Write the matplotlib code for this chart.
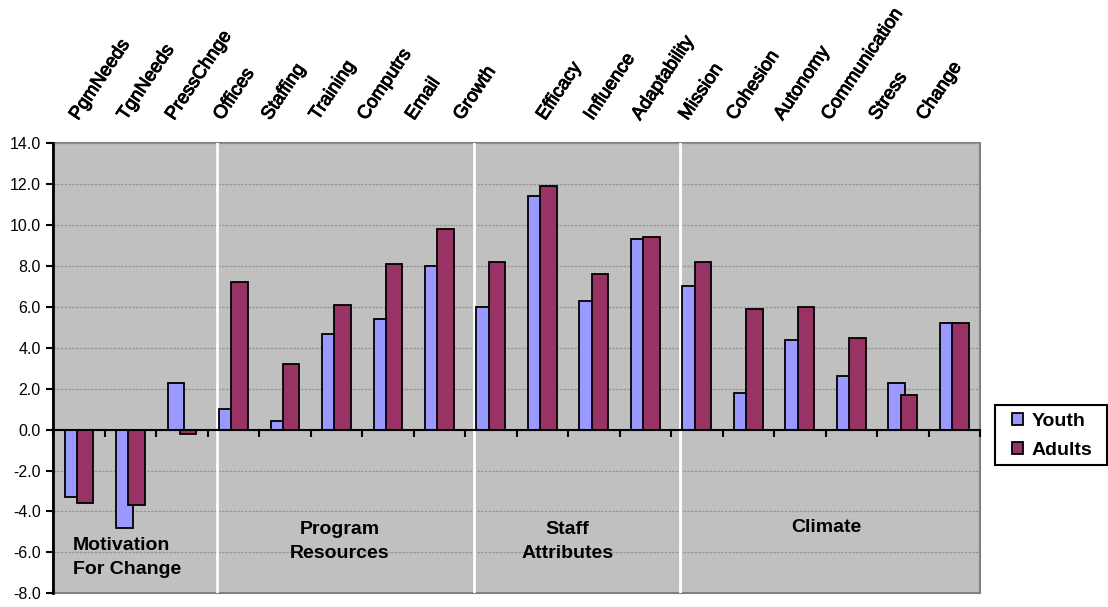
import numpy as np
import matplotlib
matplotlib.use("Agg")
import matplotlib.pyplot as plt
import matplotlib.patheffects as pe
from matplotlib.patches import Rectangle

plt.rcParams['font.family'] = ['Liberation Sans', 'DejaVu Sans']

# scale names, in plotting order
scales = ['PgmNeeds', 'TgnNeeds', 'PressChnge',
          'Offices', 'Staffing', 'Training', 'Computrs', 'Email',
          'Growth', 'Efficacy', 'Influence', 'Adaptability',
          'Mission', 'Cohesion', 'Autonomy', 'Communication', 'Stress', 'Change']

youth = [-3.3, -4.8, 2.3,
         1.0, 0.4, 4.7, 5.4, 8.0,
         6.0, 11.4, 6.3, 9.3,
         7.0, 1.8, 4.4, 2.6, 2.3, 5.2]
adults = [-3.6, -3.7, -0.2,
          7.2, 3.2, 6.1, 8.1, 9.8,
          8.2, 11.9, 7.6, 9.4,
          8.2, 5.9, 6.0, 4.5, 1.7, 5.2]

# domain name and how many scales belong to it
domains = ['Motivation\nFor Change', 'Program\nResources', 'Staff\nAttributes', 'Climate']
domain_sizes = [3, 5, 4, 6]

yticks = np.arange(-8, 14.1, 2)

W, H = 1108, 607
fig = plt.figure(figsize=(W / 100, H / 100), dpi=100)
ax = fig.add_axes([53.3 / W, 1 - 593.3 / H, (980 - 53.3) / W, (593.3 - 143.3) / H])

ax.set_facecolor('#C0C0C0')
ax.patch.set_edgecolor('#808080')
ax.patch.set_linewidth(1.5)

x = np.arange(len(scales))
w = 0.32
ax.bar(x - 0.12, youth, w, color='#9999FF', edgecolor='black', linewidth=1.3, zorder=3, label='Youth')
ax.bar(x + 0.12, adults, w, color='#993366', edgecolor='black', linewidth=1.3, zorder=4, label='Adults')

ax.set_xlim(-0.5, len(scales) - 0.5)
ax.set_ylim(yticks[0], yticks[-1])
ax.set_yticks(yticks)
ax.set_yticklabels(['%.1f' % v for v in yticks], fontsize=11.5)
for v in yticks:
    ax.axhline(v, color='#959595', lw=0.9, ls=(0, (2, 1)), zorder=1)

# white separators between domains
bounds = np.cumsum(domain_sizes)[:-1] - 0.5
for b in bounds:
    ax.axvline(b + 0.17, color='white', lw=2, zorder=2)

# zero axis with tick marks at category boundaries
ax.spines['bottom'].set_position(('data', 0))
ax.spines['bottom'].set_linewidth(1.5)
ax.spines['bottom'].set_zorder(5)
ax.spines['left'].set_linewidth(2)
ax.spines['top'].set_visible(False)
ax.spines['right'].set_visible(False)
ax.set_xticks(np.arange(len(scales) + 1) - 0.5)
ax.set_xticklabels([])
ax.tick_params(axis='x', direction='out', length=5, width=1.5)
ax.tick_params(axis='y', direction='out', length=5, width=1.5, pad=4)

# domain captions inside the plot
starts = np.concatenate([[0], np.cumsum(domain_sizes)[:-1]])
for i, (name, s, n) in enumerate(zip(domains, starts, domain_sizes)):
    if i == 0:
        ax.text(-0.12, -6.25, name, ha='left', va='center', fontsize=14,
                fontweight='bold', linespacing=1.55, zorder=6)
    elif i == len(domains) - 1:
        ax.text(s + (n - 1) / 2 + 0.02, -4.76, name, ha='center', va='center',
                fontsize=14, fontweight='bold', zorder=6)
    else:
        ax.text(s + (n - 1) / 2 + 0.06 - (0.07 if n == 4 else 0), -5.45, name,
                ha='center', va='center', fontsize=14, fontweight='bold',
                linespacing=1.55, zorder=6)

# scale names slanted above the plot
heavy = [pe.withStroke(linewidth=0.7, foreground='black')]
for i, name in enumerate(scales):
    px = 78 + 48 * i if i < 9 else 545 + 47.5 * (i - 9)
    fig.text(px / W, 1 - 121 / H, name, rotation=56, rotation_mode='anchor',
             ha='left', va='baseline', fontsize=13.5, path_effects=heavy)

# legend entries with a separate box around them
leg = fig.legend(loc='upper left', bbox_to_anchor=(1012 / W, 1 - 413 / H),
                 prop={'weight': 'bold', 'size': 14}, borderaxespad=0, borderpad=0,
                 frameon=False, handlelength=0.55, handleheight=0.55,
                 handletextpad=0.45, labelspacing=0.62)
fig.patches.append(Rectangle((995 / W, 1 - 465 / H), 112 / W, 60 / H,
                             transform=fig.transFigure, fill=False,
                             edgecolor='black', linewidth=1.5))

fig.savefig('out.png', dpi=100)
